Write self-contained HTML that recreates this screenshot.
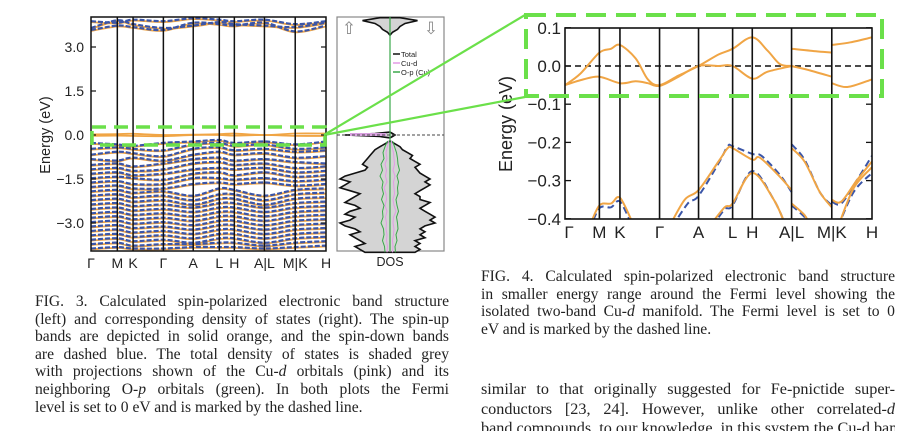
<!DOCTYPE html>
<html><head><meta charset="utf-8">
<style>
html,body{margin:0;padding:0;background:#fff;}
body{width:900px;height:442px;position:relative;overflow:hidden;}
svg{position:absolute;left:0;top:0;}
.cap{position:absolute;font-family:"Liberation Serif",serif;font-size:15.6px;line-height:17.6px;color:#222;text-align:justify;width:414px;}
.cap .l{display:block;text-align-last:justify;white-space:nowrap;}
.cap .last{display:block;white-space:nowrap;}
</style></head><body>
<svg id="fig" width="900" height="442" viewBox="0 0 900 442"></svg>
<div class="cap" style="left:35px;top:293px;">
<span class="l">FIG. 3. Calculated spin-polarized electronic band structure</span>
<span class="l">(left) and corresponding density of states (right). The spin-up</span>
<span class="l">bands are depicted in solid orange, and the spin-down bands</span>
<span class="l">are dashed blue. The total density of states is shaded grey</span>
<span class="l">with projections shown of the Cu-<i>d</i> orbitals (pink) and its</span>
<span class="l">neighboring O-<i>p</i> orbitals (green). In both plots the Fermi</span>
<span class="last">level is set to 0 eV and is marked by the dashed line.</span>
</div>
<div class="cap" style="left:481px;top:268px;">
<span class="l">FIG. 4. Calculated spin-polarized electronic band structure</span>
<span class="l">in smaller energy range around the Fermi level showing the</span>
<span class="l">isolated two-band Cu-<i>d</i> manifold. The Fermi level is set to 0</span>
<span class="last">eV and is marked by the dashed line.</span>
</div>
<div class="cap" style="left:481px;top:380px;font-size:16.2px;line-height:19.5px;height:51px;overflow:hidden;">
<span class="l">similar to that originally suggested for Fe-pnictide super-</span>
<span class="l">conductors [23, 24]. However, unlike other correlated-<i>d</i></span>
<span class="last">band compounds, to our knowledge, in this system the Cu-d bands</span>
</div>
<script>
// ---- data ----
const kLabels = ["Γ","M","K","Γ","A","L","H","A|L","M|K","H"];
const kPoints = [0,1.12,1.79,3.08,4.35,5.46,6.1,7.38,8.69,10];
const leftTicks = [3.0,1.5,0.0,-1.5,-3.0];
const leftTickLabels = ["3.0","1.5","0.0","\u22121.5","\u22123.0"];
const rightTicks = [0.1,0.0,-0.1,-0.2,-0.3,-0.4];
const rightTickLabels = ["0.1","0.0","\u22120.1","\u22120.2","\u22120.3","\u22120.4"];
const condBands = [
 [3.55,3.7,3.65,3.55,3.8,3.75,3.7,3.8,3.5,3.7],
 [3.85,3.8,3.9,3.85,3.95,3.9,3.85,3.9,3.75,3.85],
 [3.62,3.88,3.75,3.62,3.7,3.82,3.75,3.7,3.65,3.8]];
const fermiBands = [
 [0.02,0.03,0.04,0.0,0.01,0.03,0.05,0.0,0.05,0.05],
 [-0.03,-0.02,-0.03,-0.04,0,0,-0.02,0,-0.03,-0.03]];
const valBands = [
 [-0.3,-0.35,-0.4,-0.3,-0.25,-0.2,-0.3,-0.25,-0.35,-0.25],
 [-0.5,-0.45,-0.5,-0.55,-0.35,-0.3,-0.4,-0.35,-0.5,-0.45],
 [-0.7,-0.6,-0.65,-0.75,-0.5,-0.45,-0.55,-0.5,-0.6,-0.55],
 [-0.85,-0.9,-0.8,-0.9,-0.7,-0.6,-0.7,-0.65,-0.8,-0.75],
 [-1.05,-1.0,-1.1,-1.0,-0.85,-0.8,-0.9,-0.85,-0.95,-1.0],
 [-1.2,-1.15,-1.25,-1.2,-1.0,-0.95,-1.05,-1.0,-1.15,-1.1],
 [-1.35,-1.3,-1.4,-1.35,-1.2,-1.15,-1.2,-1.15,-1.3,-1.25],
 [-1.5,-1.45,-1.5,-1.55,-1.35,-1.3,-1.4,-1.3,-1.45,-1.4],
 [-1.65,-1.6,-1.7,-1.7,-1.5,-1.5,-1.55,-1.5,-1.6,-1.55],
 [-1.8,-1.75,-1.85,-1.85,-1.7,-1.65,-1.7,-1.65,-1.75,-1.7],
 [-1.95,-1.9,-2.0,-1.95,-2.1,-1.85,-1.9,-2.1,-1.9,-1.85],
 [-2.1,-2.05,-2.15,-2.1,-2.25,-2.05,-2.05,-2.25,-2.05,-2.0],
 [-2.25,-2.2,-2.3,-2.25,-2.4,-2.2,-2.2,-2.4,-2.2,-2.15],
 [-2.4,-2.35,-2.45,-2.4,-2.5,-2.35,-2.35,-2.5,-2.35,-2.3],
 [-2.55,-2.5,-2.6,-2.55,-2.65,-2.5,-2.5,-2.65,-2.5,-2.45],
 [-2.7,-2.65,-2.75,-2.7,-2.8,-2.65,-2.65,-2.8,-2.65,-2.6],
 [-2.85,-2.8,-2.9,-2.85,-2.95,-2.8,-2.8,-2.95,-2.8,-2.75],
 [-3.0,-2.95,-3.05,-3.0,-3.1,-2.95,-2.95,-3.1,-2.95,-2.9],
 [-3.15,-3.1,-3.2,-3.15,-3.25,-3.1,-3.1,-3.25,-3.1,-3.05],
 [-3.3,-3.25,-3.35,-3.3,-3.4,-3.25,-3.25,-3.4,-3.25,-3.2],
 [-3.45,-3.4,-3.5,-3.45,-3.55,-3.4,-3.4,-3.55,-3.4,-3.35],
 [-3.6,-3.55,-3.65,-3.6,-3.7,-3.55,-3.55,-3.7,-3.55,-3.5],
 [-3.75,-3.7,-3.8,-3.75,-3.75,-3.7,-3.7,-3.8,-3.7,-3.65],
 [-3.9,-3.85,-3.9,-3.9,-3.85,-3.85,-3.85,-3.9,-3.85,-3.8]];
const upUpper = [[0,-0.05],[0.5,-0.02],[1.12,0.035],[1.5,0.045],[1.79,0.055],[2.3,0.02],[2.7,-0.035],[3.08,-0.05],[3.7,-0.025],[4.35,0],[5.0,0.03],[5.46,0.045],[6.1,0.075],[6.6,0.04],[7.0,0.005],[7.38,0]];
const upLower = [[0,-0.05],[0.6,-0.035],[1.12,-0.028],[1.79,-0.045],[2.3,-0.04],[2.7,-0.045],[3.08,-0.052],[3.7,-0.028],[4.35,0],[5.0,0],[5.46,0],[6.1,-0.033],[6.6,-0.015],[7.38,0]];
const lmUpper = [[7.38,0.045],[8.0,0.04],[8.69,0.035]];
const lmLower = [[7.38,0],[8.0,-0.012],[8.69,-0.028]];
const khUpper = [[8.69,0.055],[9.3,0.062],[10,0.075]];
const khLower = [[8.69,-0.045],[9.2,-0.055],[10,-0.035]];
const orangeDeep = [
 [[0.8,-0.42],[1.12,-0.365],[1.5,-0.36],[1.79,-0.345],[2.2,-0.41]],
 [[3.4,-0.42],[3.9,-0.35],[4.35,-0.325],[5.0,-0.25],[5.3,-0.215],[5.46,-0.215],[6.1,-0.245],[6.35,-0.24],[7.0,-0.29],[7.38,-0.325]],
 [[4.7,-0.42],[5.2,-0.37],[5.46,-0.36],[6.1,-0.28],[6.8,-0.35],[7.2,-0.42]],
 [[7.38,-0.215],[7.8,-0.25],[8.3,-0.33],[8.69,-0.37]],
 [[7.38,-0.36],[7.8,-0.39],[8.0,-0.42]],
 [[8.69,-0.35],[9.0,-0.355],[9.5,-0.3],[10,-0.25]],
 [[8.9,-0.42],[9.4,-0.32],[10,-0.265]]];
const blueDeep = [
 [[0.8,-0.43],[1.12,-0.372],[1.5,-0.37],[1.79,-0.355],[2.2,-0.42]],
 [[3.5,-0.42],[4.0,-0.36],[4.35,-0.34],[5.0,-0.255],[5.3,-0.21],[5.46,-0.21],[6.1,-0.23],[6.4,-0.235],[7.0,-0.285],[7.38,-0.33]],
 [[4.8,-0.42],[5.2,-0.375],[5.46,-0.365],[6.1,-0.275],[6.8,-0.35],[7.2,-0.42]],
 [[7.38,-0.205],[7.8,-0.245],[8.3,-0.33],[8.69,-0.365]],
 [[7.38,-0.365],[7.8,-0.395],[8.0,-0.42]],
 [[8.69,-0.355],[9.0,-0.36],[9.5,-0.3],[10,-0.235]],
 [[8.9,-0.42],[9.4,-0.33],[10,-0.28]]];
const dosValE = [-0.2,-0.3,-0.4,-0.5,-0.6,-0.7,-0.8,-0.9,-1.0,-1.1,-1.2,-1.3,-1.4,-1.5,-1.6,-1.7,-1.8,-1.9,-2.0,-2.1,-2.2,-2.3,-2.4,-2.5,-2.6,-2.7,-2.8,-2.9,-3.0,-3.1,-3.2,-3.3,-3.4,-3.5,-3.6,-3.7,-3.8,-3.9,-4.0];
const dosValUp = [0,1,2,3,3.5,4,4.5,5,5.5,4.5,5,7,9,10,8,9,10,8,6,7,8,9,7,6,8,9,7,8,10,9,7,6,8,7,6,5,7,6,5];
const dosValDn = [0,1,2,2.5,3.5,4.5,4,5,6,5,5.5,6,7,8,7,8,7,6,5,6,6,8,7,6,7,8,9,8,9,7,6,7,6,7,5,6,5,6,5];
const dosCondE = [3.4,3.5,3.6,3.7,3.8,3.9,4.0];
const dosCondUp = [0,0.5,1.5,2,3,5.5,2];
const dosCondDn = [0,0.5,1.5,2,3,5.5,2];
const dosFermiE = [0.1,0.05,0,-0.05,-0.1];
const dosFermiUp = [0,3,9,2,0];
const dosFermiDn = [0,0.5,1,0.5,0];
const cuUp = [0.3,0.5,0.8,0.6,1.0,0.7,0.9,0.6,1.2,0.8,0.7,1.0,0.6,0.9,0.7,0.8,0.6,0.7,0.5,0.6];
const cuDn = [0.3,0.4,0.7,0.8,0.9,0.6,1.0,0.7,0.8,0.9,0.6,0.8,1.2,0.7,0.6,0.8,0.7,0.5,0.6,0.5];
const opUp = [0.5,1.0,1.4,1.2,1.8,1.5,2.0,1.4,1.6,1.3,1.7,1.2,1.5,1.4,1.8,1.3,1.2,1.5,1.1,1.0];
const opDn = [0.5,0.9,1.3,1.5,1.6,1.9,1.4,1.7,1.5,1.6,1.2,1.4,1.7,1.3,1.5,1.6,1.2,1.4,1.0,1.1];
const projE = [-0.2,-0.4,-0.6,-0.8,-1.0,-1.2,-1.4,-1.6,-1.8,-2.0,-2.2,-2.4,-2.6,-2.8,-3.0,-3.2,-3.4,-3.6,-3.8,-4.0];

const NS="http://www.w3.org/2000/svg";
const svg=document.getElementById('fig');
function mk(tag,attrs,parent){const e=document.createElementNS(NS,tag);for(const k in attrs)e.setAttribute(k,attrs[k]);(parent||svg).appendChild(e);return e;}
function smooth(pts){if(pts.length<2)return"";let d="M"+pts[0][0].toFixed(1)+","+pts[0][1].toFixed(1);
 for(let i=0;i<pts.length-1;i++){const p0=pts[i-1]||pts[i],p1=pts[i],p2=pts[i+1],p3=pts[i+2]||p2;
  const c1=[p1[0]+(p2[0]-p0[0])/6,p1[1]+(p2[1]-p0[1])/6],c2=[p2[0]-(p3[0]-p1[0])/6,p2[1]-(p3[1]-p1[1])/6];
  d+="C"+c1[0].toFixed(1)+","+c1[1].toFixed(1)+" "+c2[0].toFixed(1)+","+c2[1].toFixed(1)+" "+p2[0].toFixed(1)+","+p2[1].toFixed(1);}
 return d;}
const ORANGE="#f0a545", BLUE="#3a55a8", GREEN="#6be04a";
const defs=mk('defs',{});
const c1=mk('clipPath',{id:'clipL'},defs);mk('rect',{x:91,y:17,width:235,height:234},c1);
const c2=mk('clipPath',{id:'clipR'},defs);mk('rect',{x:565,y:28,width:307,height:191},c2);

const L={x0:91,x1:326,y0:17,y1:251};
const lx=k=>L.x0+k/10*(L.x1-L.x0);
const ly=E=>135-E*(44/1.5);
const gL=mk('g',{'clip-path':'url(#clipL)'});


function drawBandArr(arr,spin,cls){
 arr.forEach((b,i)=>{
  const pts=b.map((E,j)=>[lx(kPoints[j]),ly(E+(spin?0.03:0))]);
  const p=mk('path',{d:smooth(pts),fill:'none',stroke:spin?BLUE:ORANGE,'stroke-width':spin?2.2:1.8,'stroke-dasharray':spin?'5,2':'none'},gL);
  
  
 });}
drawBandArr(valBands,false,'valence-band');drawBandArr(valBands,true,'valence-band');
drawBandArr(condBands,false,'conduction-band');drawBandArr(condBands,true,'conduction-band');
drawBandArr(fermiBands,false,'fermi-band');
kPoints.slice(1,-1).forEach((k,i)=>{const l=mk('line',{x1:lx(k),x2:lx(k),y1:L.y0,y2:L.y1,stroke:'#111','stroke-width':1.5},gL);
 });
const fL=mk('rect',{x:L.x0,y:L.y0,width:L.x1-L.x0,height:L.y1-L.y0,fill:'none',stroke:'#111','stroke-width':1.5});

leftTicks.forEach((t,i)=>{const y=ly(t);
 mk('line',{x1:L.x0,x2:L.x0+5,y1:y,y2:y,stroke:'#111','stroke-width':1.2});
 mk('line',{x1:L.x1-5,x2:L.x1,y1:y,y2:y,stroke:'#111','stroke-width':1.2});
 const tx=mk('text',{x:84,y:y+5,'text-anchor':'end','font-family':'Liberation Sans, sans-serif','font-size':14,fill:'#222'});
 tx.textContent=leftTickLabels[i];});
kLabels.forEach((s,i)=>{const tx=mk('text',{x:lx(kPoints[i]),y:268,'text-anchor':'middle','font-family':'Liberation Sans, sans-serif','font-size':14,fill:'#222'});
 tx.textContent=s;});
const yl=mk('text',{x:0,y:0,transform:'translate(50,135) rotate(-90)','text-anchor':'middle','font-family':'Liberation Sans, sans-serif','font-size':14.5,fill:'#222'});
yl.textContent='Energy (eV)';

const D={x0:337,x1:444,y0:17,y1:251,cx:390,s:5};
const gD=mk('g',{});

mk('rect',{x:D.x0,y:D.y0,width:D.x1-D.x0,height:D.y1-D.y0,fill:'#fff',stroke:'#888','stroke-width':1.2},gD);
function dosShape(E,up,dn,name){
 const left=E.map((e,i)=>[D.cx-up[i]*D.s,ly(e)]);
 const right=E.map((e,i)=>[D.cx+dn[i]*D.s,ly(e)]).reverse();
 const pts=left.concat(right);
 const d="M"+pts.map(p=>p[0].toFixed(1)+","+p[1].toFixed(1)).join("L")+"Z";
 const p=mk('path',{d:d,fill:'#d4d4d4',stroke:'#111','stroke-width':1.6,'stroke-linejoin':'miter'},gD);
 }
dosShape(dosValE,dosValUp,dosValDn,'dos-total-valence');
dosShape(dosCondE,dosCondUp,dosCondDn,'dos-total-conduction');
dosShape(dosFermiE,dosFermiUp,dosFermiDn,'dos-total-fermi');
function projLine(E,vals,sign,color,name){
 const p=mk('path',{d:"M"+E.map((e,i)=>(D.cx+sign*vals[i]*D.s).toFixed(1)+","+ly(e).toFixed(1)).join("L"),fill:'none',stroke:color,'stroke-width':1},gD);
 }
projLine(projE,cuUp,-1,'#e29be6','dos-cu-d-up');projLine(projE,cuDn,1,'#e29be6','dos-cu-d-down');
projLine(projE,opUp,-1,'#3aa84a','dos-o-p-up');projLine(projE,opDn,1,'#3aa84a','dos-o-p-down');
mk('rect',{x:D.cx-40,y:133,width:36,height:3,fill:'#d9a0e0'},gD);
mk('line',{x1:D.cx,x2:D.cx,y1:D.y0,y2:D.y1,stroke:'#3aa84a','stroke-width':1.2},gD);
const fd=mk('line',{x1:D.x0,x2:D.x1,y1:135,y2:135,stroke:'#444','stroke-width':1,'stroke-dasharray':'3,2'},gD);

[['Total','#111',57],['Cu-d','#e29be6',66],['O-p (Cu)','#3aa84a',75]].forEach(r=>{
 mk('line',{x1:393,x2:400,y1:r[2]-3,y2:r[2]-3,stroke:r[1],'stroke-width':1.5},gD);
 const t=mk('text',{x:401,y:r[2],'font-family':'Liberation Sans, sans-serif','font-size':7.5,fill:'#222'},gD);
 t.textContent=r[0];});
const au=mk('text',{x:349,y:34,'text-anchor':'middle','font-family':'DejaVu Sans, sans-serif','font-size':17,fill:'#888'},gD);au.textContent='\u21E7';

const ad=mk('text',{x:431,y:34,'text-anchor':'middle','font-family':'DejaVu Sans, sans-serif','font-size':17,fill:'#888'},gD);ad.textContent='\u21E9';

const dl=mk('text',{x:390,y:266,'text-anchor':'middle','font-family':'Liberation Sans, sans-serif','font-size':12.5,fill:'#222'});
dl.textContent='DOS';

const R={x0:565,x1:872,y0:28,y1:219};
const rx=k=>R.x0+k/10*(R.x1-R.x0);
const ry=E=>66-E*382;
const gR=mk('g',{'clip-path':'url(#clipR)'});

const fz=mk('line',{x1:R.x0,x2:R.x1,y1:ry(0),y2:ry(0),stroke:'#111','stroke-width':1.5,'stroke-dasharray':'6,4'},gR);

function rBand(pts,spin,name){const p=mk('path',{d:smooth(pts.map(q=>[rx(q[0]),ry(q[1])])),fill:'none',stroke:spin?BLUE:ORANGE,'stroke-width':2,'stroke-dasharray':spin?'7,4':'none'},gR);
 }
blueDeep.forEach((b,i)=>rBand(b,true,'deep-band-spin-down-'+i));
orangeDeep.forEach((b,i)=>rBand(b,false,'deep-band-spin-up-'+i));
[[upUpper,'cu-d-upper-band'],[upLower,'cu-d-lower-band'],[lmUpper,'cu-d-upper-lm'],[lmLower,'cu-d-lower-lm'],[khUpper,'cu-d-upper-kh'],[khLower,'cu-d-lower-kh']].forEach(a=>rBand(a[0],false,a[1]));
kPoints.slice(1,-1).forEach(k=>{const l=mk('line',{x1:rx(k),x2:rx(k),y1:R.y0,y2:R.y1,stroke:'#111','stroke-width':1.6},gR);
 });
const fR=mk('rect',{x:R.x0,y:R.y0,width:R.x1-R.x0,height:R.y1-R.y0,fill:'none',stroke:'#111','stroke-width':1.6});

rightTicks.forEach((t,i)=>{const y=ry(t);
 mk('line',{x1:R.x0,x2:R.x0+6,y1:y,y2:y,stroke:'#111','stroke-width':1.3});
 mk('line',{x1:R.x1-6,x2:R.x1,y1:y,y2:y,stroke:'#111','stroke-width':1.3});
 const tx=mk('text',{x:561,y:y+6,'text-anchor':'end','font-family':'Liberation Sans, sans-serif','font-size':17,fill:'#222'});
 tx.textContent=rightTickLabels[i];});
kLabels.forEach((s,i)=>{const tx=mk('text',{x:rx(kPoints[i])+(i==0?4:0),y:238,'text-anchor':'middle','font-family':'Liberation Sans, sans-serif','font-size':17,fill:'#222'});
 tx.textContent=s;});
const yr=mk('text',{x:0,y:0,transform:'translate(512,124) rotate(-90)','text-anchor':'middle','font-family':'Liberation Sans, sans-serif','font-size':18,fill:'#222'});
yr.textContent='Energy (eV)';

const gZ=mk('g',{});

mk('rect',{x:92,y:127,width:233,height:18,fill:'none',stroke:GREEN,'stroke-width':3.5,'stroke-dasharray':'14,8'},gZ);
mk('line',{x1:324,y1:135,x2:525,y2:15,stroke:GREEN,'stroke-width':2.2},gZ);
mk('line',{x1:324,y1:135,x2:525,y2:97,stroke:GREEN,'stroke-width':2.2},gZ);
mk('rect',{x:526,y:15,width:356,height:81,fill:'none',stroke:GREEN,'stroke-width':4,'stroke-dasharray':'20,10'},gZ);
</script>
</body></html>
